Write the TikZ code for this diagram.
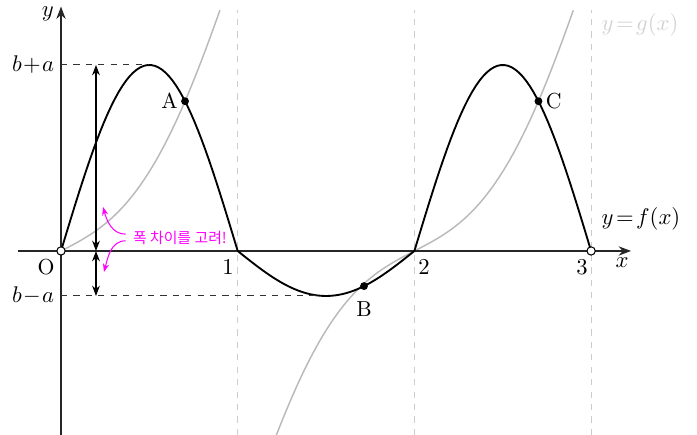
\documentclass[tikz,border=0pt]{standalone}
\usepackage{fontspec}
\newfontfamily\kor{Noto Sans CJK KR}
\usetikzlibrary{arrows.meta}
\definecolor{hintpink}{RGB}{255,0,255}

\tikzset{
    guide/.style={gray!40, dashed, line width=0.4pt},
    gcurve/.style={gray!55, line width=0.7pt},
    fcurve/.style={black, line width=0.9pt},
    level/.style={black!80, dashed, line width=0.5pt},
    dot/.style={circle, fill=black, inner sep=0pt, minimum size=3.8pt},
    hole/.style={circle, draw=black, fill=white, line width=0.5pt, inner sep=0pt, minimum size=4pt},
    gap/.style={{Stealth[length=5pt]}-{Stealth[length=5pt]}, line width=0.5pt},
    hint/.style={hintpink, -{Stealth[length=4pt]}, line width=0.5pt},
}
% g near a zero
\def\gfun#1{(1.5451*(#1)+5.008*(#1)^3-1.608*(#1)^5)}

\begin{document}
\begin{tikzpicture}[x=3cm, y=1cm, font=\fontsize{10.5}{13}\selectfont]
    \useasboundingbox (-0.3452,-3.124) rectangle (3.5993,4.261);
    % Guide lines
    \foreach \k in {1,2,3} \draw[guide] (\k,-3.124) -- (\k,4.092);

    % y = g(x)
    \draw[gcurve] plot[domain=0:0.9, samples=60] (\x,{\gfun{\x}});
    \draw[gcurve] plot[domain=-0.782:0.9, samples=90] (\x+2,{\gfun{\x}});

    % Axes
    \coordinate (xstart) at (-0.243,0); \coordinate (xend) at (3.226,0);
    \coordinate (ystart) at (0,-3.124); \coordinate (yend) at (0,4.15);
    \draw[-{Stealth[length=6pt]}, black!85, line width=0.6pt] (xstart) -- (xend);
    \draw[-{Stealth[length=6pt]}, black!85, line width=0.6pt] (ystart) -- (yend);
    \node (xlab) at (3.175,-0.204) {$x$};
    \node (ylab) at (-0.074,4.024) {$y$};
    \node (olab) at (-0.085,-0.272) {O};
    \node (one) at (0.945,-0.272) {$1$}; \node (two) at (2.054,-0.272) {$2$};
    \node (three) at (2.948,-0.272) {$3$};

    % y = f(x)
    \draw[fcurve] plot[domain=0:1, samples=50] (\x,{3.158*sin(180*\x)})
    -- plot[domain=1:2, samples=50] (\x,{-0.764*sin(180*(\x-1))})
    -- plot[domain=2:3, samples=50] (\x,{3.158*sin(180*(\x-2))});

    % Levels b+a and b-a
    \coordinate (bpa) at (0,3.158); \coordinate (peak) at (0.5,3.158);
    \coordinate (bma) at (0,-0.764); \coordinate (dip) at (1.45,-0.764);
    \draw[level] (bpa) -- (peak);
    \draw[level] (bma) -- (dip);
    \node (bpalab) at (-0.158,3.158) {$b\!+\!a$};
    \node (bmalab) at (-0.158,-0.764) {$b\!-\!a$};

    % Width arrows
    \coordinate (atop) at (0.198,3.158); \coordinate (amid) at (0.198,0);
    \coordinate (abot) at (0.198,-0.764);
    \draw[gap] (atop) -- (amid);
    \draw[gap] (amid) -- (abot);

    % Note
    \node[text=hintpink, font=\kor\fontsize{7.2}{9}\selectfont] (note) at (0.673,0.229)
    {폭 차이를 고려!};
    \coordinate (up) at (0.238,0.747); \coordinate (down) at (0.243,-0.357);
    \draw[hint] ([yshift=1.6pt]note.west) to[out=180, in=-75] (up);
    \draw[hint] ([yshift=-1.6pt]note.west) to[out=180, in=75] (down);

    % Points
    \node[hole] (O) at (0,0) {}; \node[hole] (end) at (3,0) {};
    \node[dot] (A) at (0.702,2.543) {};
    \node[dot] (B) at (1.715,-0.596) {};
    \node[dot] (C) at (2.702,2.543) {};
    \node[left] (Alab) at (A) {A};
    \node[below=4pt] (Blab) at (B) {B};
    \node[right] (Clab) at (C) {C};

    % Curve labels
    \node (flab) at (3.282,0.543) {$y\!=\!f(x)$};
    \node[text=gray!35] (glab) at (3.277,3.837) {$y\!=\!g(x)$};
\end{tikzpicture}
\end{document}
